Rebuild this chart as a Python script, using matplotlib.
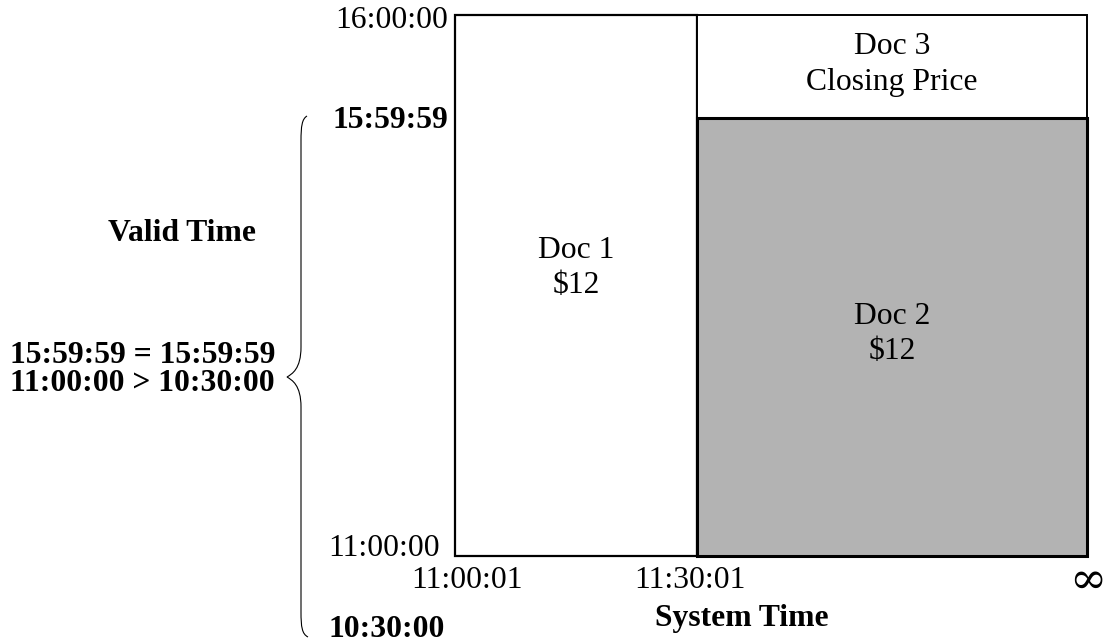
import matplotlib
matplotlib.use("Agg")
import matplotlib.pyplot as plt
from matplotlib.path import Path
from matplotlib.patches import PathPatch
import matplotlib.transforms as mtransforms

plt.rcParams['font.family'] = ['Liberation Serif', 'DejaVu Serif']

# ---- data (schematic positions) ----
sys_labels = ["11:00:01", "11:30:01", "\u221e"]
sys_pos = [0.0, 1.0, 2.61]
valid_labels = ["11:00:00", "15:59:59", "16:00:00"]
valid_pos = [0.0, 0.81, 1.0]
valid_bold = [False, True, False]
low_label = "10:30:00"
low_pos = -0.131

doc_names = ["Doc 1\n$12", "Doc 2\n$12", "Doc 3\nClosing Price"]
doc_x0 = [0.0, 1.0, 1.0]
doc_x1 = [1.0, 2.61, 2.61]
doc_y0 = [0.0, 0.0, 0.81]
doc_y1 = [1.0, 0.81, 1.0]
doc_colors = ["white", "#b3b3b3", "white"]
doc_lw = [1.6, 2.2, 1.4]

compare_lines = ["15:59:59 = 15:59:59", "11:00:00 > 10:30:00"]

W, H = 1107, 644
fig = plt.figure(figsize=(W / 100, H / 100), dpi=100)
L, R, T, B = 455, 1087, 15, 556
ax = fig.add_axes([L / W, 1 - B / H, (R - L) / W, (B - T) / H])
ax.set_xlim(sys_pos[0], sys_pos[-1])
ax.set_ylim(0, 1)
ax.axis('off')

fs = 22.8
# Draw docs: order Doc1, Doc3, Doc2 so gray box lines on top
for i in [0, 2, 1]:
    ax.bar(doc_x0[i], doc_y1[i] - doc_y0[i], bottom=doc_y0[i],
           width=doc_x1[i] - doc_x0[i], align='edge', color=doc_colors[i],
           edgecolor='black', linewidth=doc_lw[i], clip_on=False, zorder=2 + (i == 1))

# Doc labels
label_y = [0.532, 0.41, 0.909]
for i, name in enumerate(doc_names):
    ax.text((doc_x0[i] + doc_x1[i]) / 2, label_y[i], name, ha='center', va='center',
            fontsize=fs, linespacing=1.3, zorder=5)

# System time tick labels
offs = [12, -7, 1]
for lab, p, o in zip(sys_labels, sys_pos, offs):
    tr = ax.transData + mtransforms.ScaledTranslation(o / 100, -24 / 100, fig.dpi_scale_trans)
    if lab == "\u221e":
        ax.text(p, 0, lab, transform=tr, ha='center', va='center', fontsize=32,
                clip_on=False, family=['DejaVu Serif'])
    else:
        ax.text(p, 0, lab, transform=tr, ha='center', va='center', fontsize=fs, clip_on=False)
ax.text((sys_pos[0] + sys_pos[-1]) / 2 - 0.12, -0.115, "System Time", ha='center', va='center',
        fontsize=fs, fontweight='bold', clip_on=False)

# Valid time tick labels
yoffs = [7, -3, -5]
xoffs = [-15, -7, -7]
for lab, p, b, yo, xo in zip(valid_labels, valid_pos, valid_bold, yoffs, xoffs):
    tr = ax.transData + mtransforms.ScaledTranslation(xo / 100, yo / 100, fig.dpi_scale_trans)
    ax.text(0, p, lab, transform=tr, ha='right', va='center', fontsize=fs,
            fontweight='bold' if b else 'normal', clip_on=False)
tr = ax.transData + mtransforms.ScaledTranslation(-10 / 100, -3 / 100, fig.dpi_scale_trans)
ax.text(0, low_pos, low_label, transform=tr, ha='right', va='center', fontsize=fs,
        fontweight='bold', clip_on=False)

# Overlay in pixel coordinates for left annotations
ov = fig.add_axes([0, 0, 1, 1])
ov.set_xlim(0, W)
ov.set_ylim(H, 0)
ov.axis('off')
ov.patch.set_alpha(0)

ov.text(182, 233, "Valid Time", ha='center', va='center', fontsize=fs, fontweight='bold')
ov.text(10, 355, compare_lines[0], ha='left', va='center', fontsize=fs, fontweight='bold')
ov.text(10, 383, compare_lines[1], ha='left', va='center', fontsize=fs, fontweight='bold')

# Curly brace
x0, tip_x, tip_y = 301, 287, 377
top_y, bot_y = 116, 637
verts = [
    (307, top_y), (302, top_y + 3), (x0, top_y + 10), (x0, top_y + 25),
    (x0, tip_y - 30),
    (x0, tip_y - 8), (292, tip_y - 3), (tip_x, tip_y),
    (292, tip_y + 3), (x0, tip_y + 8), (x0, tip_y + 30),
    (x0, bot_y - 25),
    (x0, bot_y - 10), (302, bot_y - 3), (308, bot_y),
]
codes = [Path.MOVETO, Path.CURVE4, Path.CURVE4, Path.CURVE4,
         Path.LINETO,
         Path.CURVE4, Path.CURVE4, Path.CURVE4,
         Path.CURVE4, Path.CURVE4, Path.CURVE4,
         Path.LINETO,
         Path.CURVE4, Path.CURVE4, Path.CURVE4]
ov.add_patch(PathPatch(Path(verts, codes), fill=False, lw=0.8, edgecolor='black'))

fig.savefig("out.png", dpi=100)
